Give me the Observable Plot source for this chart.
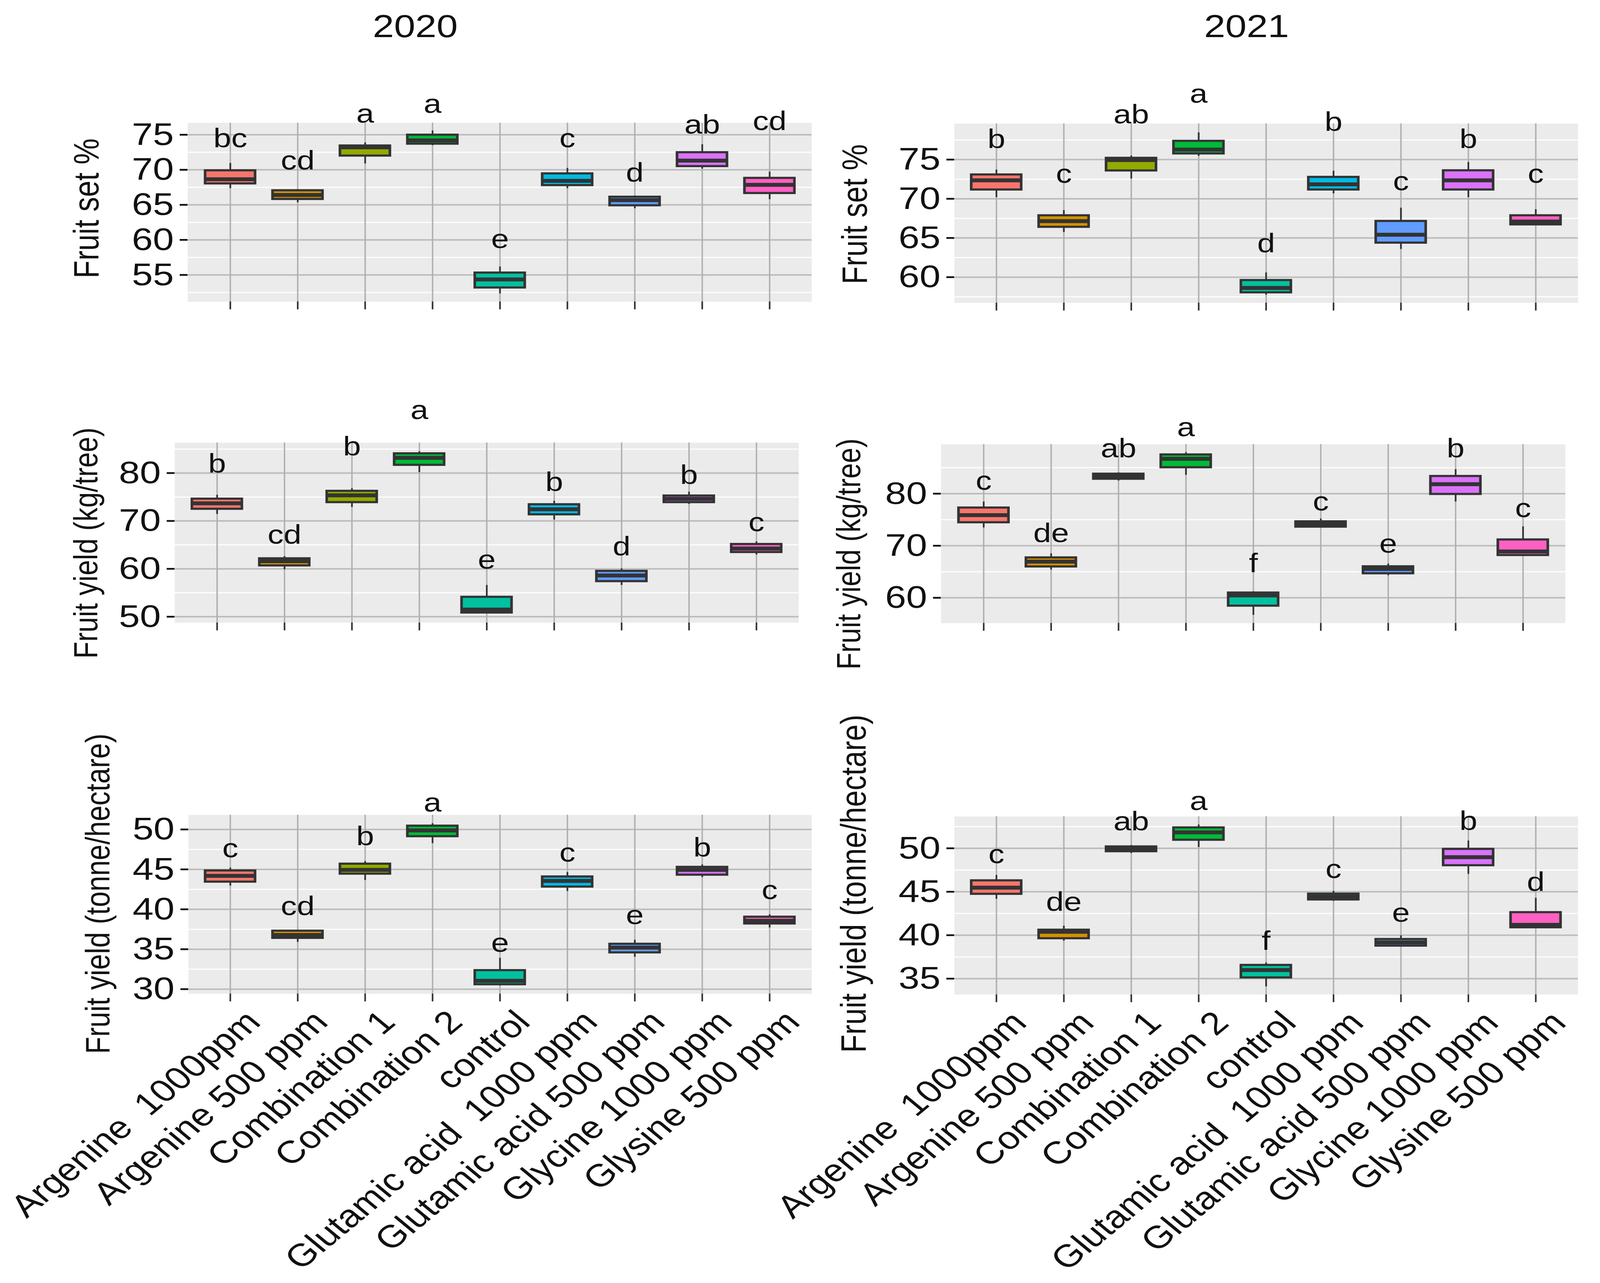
<!DOCTYPE html>
<html>
<head>
<meta charset="utf-8">
<script src="https://cdn.jsdelivr.net/npm/d3@7"></script>
<script src="https://cdn.jsdelivr.net/npm/@observablehq/plot@0.6"></script>
<style>
  html, body { margin: 0; padding: 0; background: #fff; overflow: hidden; }
  #page { position: absolute; left: 0; top: 0; width: 4310px; height: 3285px; transform-origin: 0 0; }
  #fig { position: absolute; left: 0; top: 0; width: 3394px; height: 3285px; transform: scaleX(1.27); transform-origin: 0 0; }
  #fig svg { position: absolute; overflow: visible; max-width: none; }
  #fig text { white-space: pre; }
</style>
</head>
<body>
<div id="page"><div id="fig"></div></div>
<script>
// ---------- data ----------
const treatments = ["Argenine  1000ppm", "Argenine 500 ppm", "Combination 1", "Combination 2", "control",
  "Glutamic acid  1000 ppm", "Glutamic acid 500 ppm", "Glycine 1000 ppm", "Glysine 500 ppm"];
const palette = ["#F8766D", "#D39200", "#93AA00", "#00BA38", "#00C19F", "#00B9E3", "#619CFF", "#DB72FB", "#FF61C3"];
const years = ["2020", "2021"];

// each row: [lower whisker, Q1, median, Q3, upper whisker]
const fruitSet2020 = [
  [67.36, 68.03, 68.65, 69.90, 70.95], [65.34, 65.81, 66.40, 67.05, 67.22], [70.88, 72.00, 73.20, 73.44, 73.87],
  [73.49, 73.70, 74.19, 74.98, 75.58], [52.33, 53.18, 54.35, 55.31, 56.17], [67.36, 67.79, 68.43, 69.46, 70.24],
  [64.49, 64.91, 65.66, 66.13, 66.30], [70.14, 70.50, 71.31, 72.48, 73.62], [65.77, 66.66, 67.86, 68.82, 69.71]];
const fruitSet2020Letters = ["bc", "cd", "a", "a", "e", "c", "d", "ab", "cd"];
const fruitSet2020LabelY = [73.23, 70.03, 76.75, 78.14, 58.83, 73.23, 68.32, 75.15, 75.68];

const fruitSet2021 = [
  [70.18, 71.16, 72.35, 73.08, 73.70], [65.74, 66.40, 67.15, 67.87, 68.53], [72.56, 73.59, 74.94, 75.20, 75.49],
  [75.45, 75.76, 76.28, 77.37, 78.45], [57.73, 58.04, 58.62, 59.61, 60.58], [70.66, 71.16, 71.84, 72.77, 73.55],
  [63.57, 64.38, 65.41, 67.15, 68.84], [70.18, 71.16, 72.35, 73.61, 74.67], [66.71, 66.71, 67.09, 67.87, 68.64]];
const fruitSet2021Letters = ["b", "c", "ab", "a", "d", "b", "c", "b", "c"];
const fruitSet2021LabelY = [76.49, 72.04, 79.59, 82.27, 63.16, 78.66, 71.11, 76.49, 72.04];

const yieldTree2020 = [
  [71.41, 72.50, 73.67, 74.62, 75.42], [59.87, 60.67, 61.58, 62.16, 62.60], [72.87, 73.89, 75.35, 76.25, 76.80],
  [80.15, 81.68, 83.17, 84.08, 84.52], [50.84, 50.84, 51.50, 54.12, 56.59], [70.25, 71.34, 72.43, 73.45, 74.18],
  [56.59, 57.39, 58.60, 59.54, 60.05], [73.52, 73.89, 74.62, 75.27, 76.07], [62.96, 63.47, 64.24, 65.15, 65.69]];
const yieldTree2020Letters = ["b", "cd", "b", "a", "e", "b", "d", "b", "c"];
const yieldTree2020LabelY = [80.08, 65.22, 83.65, 91.29, 60.05, 76.26, 62.78, 77.71, 67.88];

const yieldTree2021 = [
  [73.47, 74.47, 75.87, 77.30, 78.45], [65.39, 65.98, 66.94, 67.72, 68.50], [82.49, 82.83, 83.33, 83.80, 84.05],
  [83.58, 85.04, 86.69, 87.50, 87.93], [56.68, 58.45, 60.45, 60.97, 61.19], [73.47, 73.63, 74.16, 74.65, 75.18],
  [64.30, 64.67, 65.54, 66.01, 66.54], [78.45, 79.91, 81.81, 83.36, 84.67], [68.18, 68.18, 68.90, 71.17, 73.69]];
const yieldTree2021Letters = ["c", "de", "ab", "a", "f", "c", "e", "b", "c"];
const yieldTree2021LabelY = [80.78, 70.67, 86.94, 91.04, 64.92, 76.80, 68.65, 86.94, 75.49];

const yieldHa2020 = [
  [42.94, 43.44, 44.19, 44.84, 45.19], [35.90, 36.40, 36.78, 37.30, 37.40], [43.64, 44.44, 44.94, 45.69, 46.01],
  [48.26, 49.13, 49.88, 50.45, 50.75], [30.42, 30.59, 31.04, 32.36, 33.91], [42.27, 42.82, 43.56, 44.09, 44.64],
  [34.03, 34.58, 35.20, 35.66, 36.16], [44.01, 44.31, 44.94, 45.29, 45.59], [37.70, 38.20, 38.57, 39.05, 39.35]];
const yieldHa2020Letters = ["c", "cd", "b", "a", "e", "c", "e", "b", "c"];
const yieldHa2020LabelY = [46.51, 39.27, 48.01, 52.25, 34.66, 45.96, 38.15, 46.63, 41.27];

const yieldHa2021 = [
  [44.16, 44.74, 45.47, 46.29, 46.91], [39.35, 39.63, 40.39, 40.61, 41.07], [49.43, 49.64, 49.91, 50.19, 50.35],
  [50.12, 50.96, 51.83, 52.38, 52.71], [34.09, 35.12, 35.99, 36.56, 36.84], [43.93, 44.09, 44.44, 44.76, 45.08],
  [38.67, 38.78, 39.17, 39.54, 39.97], [47.03, 48.03, 48.97, 49.91, 50.87], [40.89, 40.89, 41.19, 42.63, 44.28]];
const yieldHa2021Letters = ["c", "de", "ab", "a", "f", "c", "e", "b", "d"];
const yieldHa2021LabelY = [48.29, 42.79, 52.06, 54.42, 38.32, 46.57, 41.53, 52.11, 45.08];

const ticksFruitSet2020 = [55, 60, 65, 70, 75];
const ticksFruitSet2021 = [60, 65, 70, 75];
const ticksYieldTree2020 = [50, 60, 70, 80];
const ticksYieldTree2021 = [60, 70, 80];
const ticksYieldHa2020 = [30, 35, 40, 45, 50];
const ticksYieldHa2021 = [35, 40, 45, 50];

// ---------- layout ----------
const S = 1.27; // horizontal stretch of the whole figure
const page = document.getElementById("page");
const fig = document.getElementById("fig");
const FONT = "'Liberation Sans', Arial, Helvetica, sans-serif";

// fit the 4310 x 3285 design to the actual viewport
const vw = document.documentElement.clientWidth || window.innerWidth || 4310;
const vh = document.documentElement.clientHeight || window.innerHeight || 3285;
page.style.transform = `scale(${vw / 4310}, ${vh / 3285})`;

const panels = [
  {stats: fruitSet2020, letters: fruitSet2020Letters, labelY: fruitSet2020LabelY, ticks: ticksFruitSet2020,
   domain: [51.18, 76.70], yTitle: "Fruit set %", titleFont: 75,
   L: 505, R: 2186, T: 314, B: 772, Xs: 0, Ys: 0, titleX: 234, titleCY: 533, year: years[0], yearX: 1118, yearY: 69},
  {stats: fruitSet2021, letters: fruitSet2021Letters, labelY: fruitSet2021LabelY, ticks: ticksFruitSet2021,
   domain: [56.72, 79.59], yTitle: "Fruit set %", titleFont: 75,
   L: 2570, R: 4250, T: 316, B: 775, Xs: 2000, Ys: 0, titleX: 2304, titleCY: 548, year: years[1], yearX: 3357, yearY: 69},
  {stats: yieldTree2020, letters: yieldTree2020Letters, labelY: yieldTree2020LabelY, ticks: ticksYieldTree2020,
   domain: [48.74, 86.34], yTitle: "Fruit yield (kg/tree)", titleFont: 71,
   L: 470, R: 2151, T: 1133, B: 1594, Xs: 0, Ys: 900, titleX: 232, titleCY: 1390},
  {stats: yieldTree2021, letters: yieldTree2021Letters, labelY: yieldTree2021LabelY, ticks: ticksYieldTree2021,
   domain: [55.13, 89.49], yTitle: "Fruit yield (kg/tree)", titleFont: 71,
   L: 2534, R: 4216, T: 1137, B: 1595, Xs: 2000, Ys: 900, titleX: 2287, titleCY: 1418},
  {stats: yieldHa2020, letters: yieldHa2020Letters, labelY: yieldHa2020LabelY, ticks: ticksYieldHa2020,
   domain: [29.42, 51.82], yTitle: "Fruit yield (tonne/hectare)", titleFont: 72,
   L: 507, R: 2186, T: 2086, B: 2544, Xs: 0, Ys: 1800, titleX: 265, titleCY: 2288, xLabels: true},
  {stats: yieldHa2021, letters: yieldHa2021Letters, labelY: yieldHa2021LabelY, ticks: ticksYieldHa2021,
   domain: [33.17, 53.66], yTitle: "Fruit yield (tonne/hectare)", titleFont: 76,
   L: 2570, R: 4250, T: 2090, B: 2546, Xs: 2000, Ys: 1800, titleX: 2300, titleCY: 2262, xLabels: true}
];

function drawPanel(c) {
  const rows = treatments.map((t, i) => ({
    t, lo: c.stats[i][0], q1: c.stats[i][1], med: c.stats[i][2], q3: c.stats[i][3], hi: c.stats[i][4],
    letter: c.letters[i], ly: c.labelY[i]
  }));
  const st = c.ticks[1] - c.ticks[0];
  const minor = [c.ticks[0] - st / 2, ...c.ticks.map(v => v + st / 2)].filter(v => v > c.domain[0] && v < c.domain[1]);
  const mL = (c.L - c.Xs) / S, mR = 10, mT = c.T - c.Ys;
  const mB = c.xLabels ? (3280 - c.B) : 40;
  const marks = [
    Plot.frame({fill: "#EBEBEB", stroke: "none"}),
    Plot.ruleY(minor, {stroke: "#FFFFFF", strokeWidth: 2.8}),
    Plot.ruleY(c.ticks, {stroke: "#BDBDBD", strokeWidth: 4}),
    Plot.ruleX(treatments, {x: d => d, stroke: "#AFAFAF", strokeWidth: 3}),
    Plot.axisY(c.ticks, {tickSize: 16.5, tickPadding: 13, fontSize: 80, strokeWidth: 4.5, color: "#111", fontFamily: FONT, label: null}),
    Plot.axisX({tickSize: 20, tickFormat: () => "", strokeWidth: 3.4, color: "#333", label: null}),
    Plot.ruleX(rows, {x: "t", y1: "lo", y2: "q1", stroke: "#333333", strokeWidth: 3.6}),
    Plot.ruleX(rows, {x: "t", y1: "q3", y2: "hi", stroke: "#333333", strokeWidth: 3.6}),
    Plot.barY(rows, {x: "t", y1: "q1", y2: "q3", fill: "t", stroke: "#333333", strokeWidth: 5.5}),
    Plot.tickY(rows, {x: "t", y: "med", stroke: "#333333", strokeWidth: 10}),
    Plot.text(rows, {x: "t", y: "ly", text: "letter", lineAnchor: "bottom", fontSize: 68, fill: "#111", fontFamily: FONT}),
    Plot.text([c.yTitle], {frameAnchor: "left", dx: -(c.L - c.titleX) / S, dy: c.titleCY - (c.T + c.B) / 2,
      rotate: -90, text: d => d, textAnchor: "middle", fontSize: c.titleFont, lineAnchor: "middle", fill: "#111", fontFamily: FONT})
  ];
  if (c.year) {
    marks.push(Plot.text([c.year], {frameAnchor: "top-left", dx: (c.yearX - c.L) / S, dy: c.yearY - c.T,
      text: d => d, textAnchor: "middle", fontSize: 81, lineAnchor: "middle", fill: "#111", fontFamily: FONT}));
  }
  if (c.xLabels) {
    marks.push(Plot.text(treatments, {x: d => d, text: d => d, frameAnchor: "bottom", dx: 27, dy: 36,
      rotate: -45, textAnchor: "end", lineAnchor: "top", fontSize: 81, fill: "#111", fontFamily: FONT}));
  }
  const svg = Plot.plot({
    width: (c.R - c.Xs) / S + mR,
    height: c.B - c.Ys + mB,
    marginLeft: mL, marginRight: mR, marginTop: mT, marginBottom: mB,
    x: {type: "band", domain: treatments, paddingInner: 0.26, paddingOuter: 0.23},
    y: {domain: c.domain},
    color: {domain: treatments, range: palette},
    style: {fontFamily: FONT, background: "transparent", overflow: "visible", color: "#111"},
    marks
  });
  svg.style.left = (c.Xs / S) + "px";
  svg.style.top = c.Ys + "px";
  fig.append(svg);
}

panels.forEach(drawPanel);
</script>
</body>
</html>
